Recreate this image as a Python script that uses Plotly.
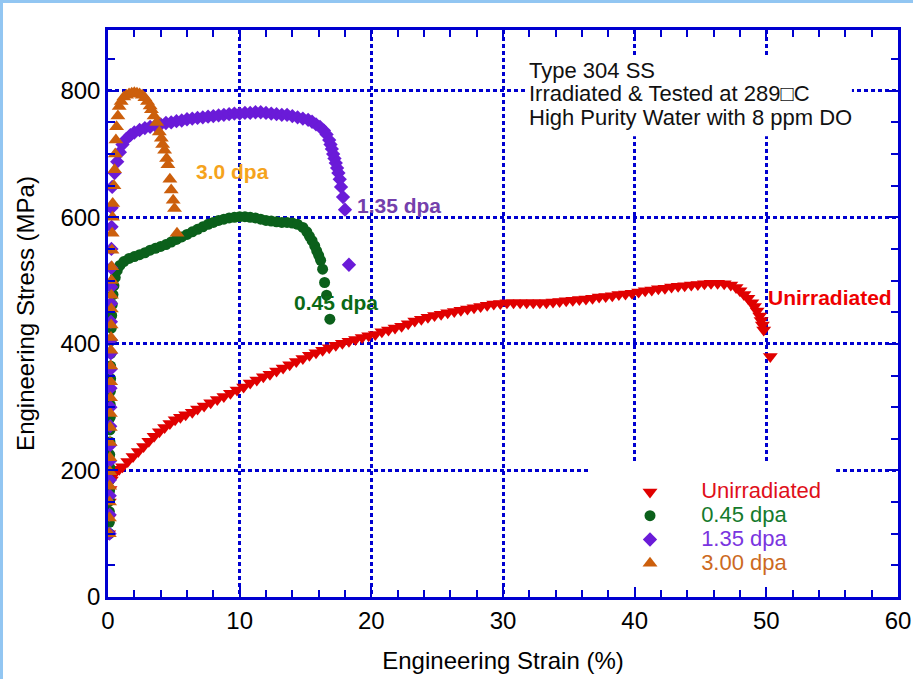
import plotly.graph_objects as go

# ---------------- data ----------------
unirr_strain = [0.05, 0.08, 0.10, 0.15, 0.25, 0.40, 0.60, 0.85,
                1.1, 1.5, 1.9, 2.3, 2.7, 3.1, 3.5, 3.9, 4.3, 4.7, 5.1, 5.5, 5.9, 6.4, 6.8, 7.3, 7.8,
                8.3, 8.8, 9.3, 9.8, 10.3, 10.8, 11.3, 11.8, 12.3, 12.8, 13.3, 13.8, 14.3, 14.8, 15.3,
                15.8, 16.3, 16.8, 17.3, 17.8, 18.3, 18.8, 19.3, 19.8, 20.3, 20.8, 21.3, 21.8, 22.3,
                22.8, 23.3, 23.8, 24.3, 24.8, 25.3, 25.8, 26.3, 26.8, 27.3, 27.8, 28.3, 28.8, 29.3,
                29.8, 30.3, 30.8, 31.3, 31.8, 32.3, 32.8, 33.3, 33.8, 34.3, 34.8, 35.3, 35.8, 36.3,
                36.8, 37.3, 37.8, 38.3, 38.8, 39.3, 39.8, 40.3, 40.8, 41.3, 41.8, 42.3, 42.8, 43.3,
                43.8, 44.3, 44.8, 45.3, 45.8, 46.3, 46.8, 47.3, 47.7, 48.0, 48.3, 48.6, 48.9, 49.1,
                49.3, 49.5, 49.6, 49.7, 49.8, 50.3]
unirr_stress = [100, 125, 150, 170, 185, 193, 198, 202,
                206, 214, 222, 230, 238, 246, 254, 261, 268, 274, 280, 284, 288, 292, 297, 302, 307,
                312, 317, 322, 327, 332, 338, 343, 348, 352, 357, 362, 367, 372, 377, 382,
                386, 390, 394, 398, 401, 404, 407, 410, 413, 415, 419, 422, 425, 428,
                432, 436, 439, 442, 445, 447, 449, 451, 453, 455, 457, 459, 461, 463,
                464, 465, 465, 465, 465, 465, 465, 465, 466, 467, 468, 469, 470, 471,
                472, 474, 475, 476, 478, 479, 480, 482, 484, 485, 487, 488, 490, 491,
                492, 493, 494, 495, 496, 496, 495, 493, 489, 484, 478, 472, 465, 459,
                452, 444, 437, 430, 422, 380]

dpa045_strain = [0.10, 0.10, 0.10, 0.12, 0.12, 0.12, 0.13, 0.13, 0.15, 0.15, 0.17, 0.17, 0.18,
                 0.20, 0.20, 0.22, 0.23, 0.25, 0.28, 0.32, 0.38, 0.45, 0.55, 0.70, 0.90,
                 1.2, 1.6, 2.0, 2.4, 2.8, 3.2, 3.6, 4.0, 4.4, 4.8, 5.2, 5.6, 6.0, 6.4, 6.8, 7.2,
                 7.6, 8.0, 8.4, 8.8, 9.2, 9.6, 10.0, 10.4, 10.8, 11.2, 11.6, 12.0, 12.4, 12.8,
                 13.2, 13.6, 14.0, 14.4, 14.8, 15.1, 15.3, 15.5, 15.7, 15.85, 16.0, 16.15,
                 16.3, 16.45, 16.6, 16.85]
dpa045_stress = [100, 118, 135, 152, 168, 185, 205, 225, 245, 264, 284, 304, 325,
                 345, 365, 385, 405, 425, 445, 462, 478, 492, 505, 516, 524,
                 530, 535, 538, 541, 544, 548, 551, 554, 557, 561, 565, 569, 573, 577, 581, 585,
                 589, 592, 595, 597, 599, 600, 601, 601, 600, 599, 597, 595, 594, 593,
                 592, 592, 591, 589, 584, 577, 570, 563, 555, 547, 540, 532,
                 518, 497, 477, 439]

dpa135_strain = [0.12, 0.12, 0.13, 0.14, 0.15, 0.16, 0.17, 0.18, 0.19, 0.20, 0.21, 0.22, 0.22,
                 0.23, 0.24, 0.25, 0.26, 0.27, 0.28, 0.32,
                 0.5, 0.7, 0.9, 1.1, 1.4, 1.7, 2.0, 2.4, 2.8, 3.2, 3.6, 4.0, 4.4, 4.8, 5.2, 5.6,
                 6.0, 6.4, 6.8, 7.2, 7.6, 8.0, 8.4, 8.8, 9.2, 9.6, 10.0, 10.4, 10.8, 11.2, 11.6,
                 12.0, 12.4, 12.8, 13.2, 13.6, 14.0, 14.4, 14.8, 15.2, 15.5, 15.8, 16.1, 16.4,
                 16.6, 16.8, 16.9, 17.0, 17.1, 17.2, 17.3, 17.4, 17.5, 17.6, 17.7, 17.85, 18.0, 18.3]
dpa135_stress = [100, 130, 160, 185, 215, 240, 270, 300, 330, 360, 385, 406, 435,
                 464, 490, 520, 550, 585, 615, 648,
                 670, 688, 703, 715, 724, 730, 734, 738, 741, 743, 745, 747, 749, 750, 752, 753,
                 755, 756, 757, 758, 759, 760, 761, 762, 763, 764, 764, 765, 765, 766, 766,
                 765, 764, 763, 762, 762, 760, 758, 756, 754, 751, 747, 743, 737,
                 731, 722, 715, 708, 700, 693, 686, 678, 670, 660, 648, 632, 612, 525]

dpa300_strain = [0.10, 0.11, 0.12, 0.13, 0.14, 0.15, 0.16, 0.17, 0.18, 0.19, 0.20, 0.21, 0.22,
                 0.23, 0.24, 0.25, 0.26, 0.27, 0.28, 0.30, 0.32, 0.34, 0.36,
                 0.45, 0.50, 0.55, 0.60, 0.65, 0.75, 0.85, 1.0, 1.2, 1.4, 1.6, 1.8, 2.0, 2.2, 2.4,
                 2.6, 2.8, 3.0, 3.2, 3.3, 3.5, 3.7, 3.9, 4.05, 4.15, 4.3, 4.45, 4.55, 4.7, 4.8,
                 4.95, 5.05, 5.24]
dpa300_stress = [100, 125, 150, 175, 198, 220, 244, 268, 290, 315, 340, 365, 390,
                 410, 430, 455, 477, 500, 522, 548, 575, 600, 622,
                 650, 675, 700, 722, 743, 760, 775, 783, 790, 793, 795, 796, 797, 796, 795,
                 793, 789, 783, 776, 770, 760, 750, 735, 725, 715, 706, 693, 683, 660, 643,
                 627, 614, 575]

legend_names = ["Unirradiated", "0.45 dpa", "1.35 dpa", "3.00 dpa"]
x_ticks = [0, 10, 20, 30, 40, 50, 60]
y_ticks = [0, 200, 400, 600, 800]

# ---------------- styling ----------------
FONT = "Liberation Sans, Arial, sans-serif"
BLUE = "#0000d0"
c_red, c_green, c_purple, c_orange = "#e00000", "#0b601b", "#6a1bd8", "#cc5f0c"
leg_text_colors = ["#e0101a", "#157a2c", "#7a35e0", "#cc6a1f"]
NB = "\u00a0"

fig = go.Figure()
series = [
    (unirr_strain, unirr_stress, "triangle-down", c_red, 13),
    (dpa045_strain, dpa045_stress, "circle", c_green, 11),
    (dpa135_strain, dpa135_stress, "diamond", c_purple, 11),
    (dpa300_strain, dpa300_stress, "triangle-up", c_orange, 13),
]
for (xs, ys, sym, col, sz), name, tcol in zip(series, legend_names, leg_text_colors):
    fig.add_trace(go.Scatter(
        x=xs, y=ys, mode="markers",
        marker=dict(symbol=sym, color=col, size=sz, line=dict(width=0)),
        name=f'{NB*7}<span style="color:{tcol};font-size:22px">{name}</span>',
    ))

axis_common = dict(
    showline=True, linecolor=BLUE, linewidth=2.5, mirror="allticks",
    ticks="inside", ticklen=10, tickwidth=2, tickcolor=BLUE,
    showgrid=True, gridcolor=BLUE, gridwidth=2.5, griddash="4px,3px",
    zeroline=False, automargin=False,
    tickfont=dict(family=FONT, size=24, color="black"),
    title_font=dict(family=FONT, size=24, color="black"),
    minor=dict(ticks="inside", ticklen=7, tickwidth=2, tickcolor=BLUE, showgrid=False),
)

fig.update_xaxes(range=[0, 60], tickvals=x_ticks, minor_dtick=2,
                 title_text="Engineering Strain (%)", title_standoff=20, **axis_common)
fig.update_yaxes(range=[0, 896], tickvals=y_ticks, minor_dtick=50,
                 title_text="Engineering Stress (MPa)", title_standoff=20, **axis_common)

# white frame areas that hide grid (text block and legend block)
fig.add_shape(type="rect", xref="x", yref="y", x0=31.8, x1=56.5, y0=728, y1=856,
              fillcolor="white", line_width=0, layer="between")
fig.add_shape(type="rect", xref="x", yref="y", x0=36.6, x1=55.3, y0=0, y1=214,
              fillcolor="white", line_width=0, layer="between")

# light blue page frame (top and left)
fig.add_shape(type="rect", xref="paper", yref="paper", x0=-0.1367, x1=1.05,
              y0=1.0476, y1=1.0530, fillcolor="#92c6f2", line_width=0, layer="above")
fig.add_shape(type="rect", xref="paper", yref="paper", x0=-0.1367, x1=-0.1329,
              y0=-0.15, y1=1.0530, fillcolor="#92c6f2", line_width=0, layer="above")

# text block
info_lines = ["Type 304 SS", "Irradiated &amp; Tested at 289\u25a1C", "High Purity Water with 8 ppm DO"]
for i, t in enumerate(info_lines):
    fig.add_annotation(xref="paper", yref="paper", x=(527 - 108) / 790, y=(597 - (70 + 23.5 * i)) / 567,
                       xanchor="left", yanchor="middle", text=t, showarrow=False,
                       font=dict(family=FONT, size=22, color="#111111"))

# curve labels
labels = [
    ("3.0 dpa", 9.45, 673, "#f5a31c"),
    ("1.35 dpa", 22.1, 618, "#7440ac"),
    ("0.45 dpa", 17.3, 466, "#0b6a16"),
    ("Unirradiated", 54.8, 473, "#ee0000"),
]
for t, x, y, col in labels:
    fig.add_annotation(x=x, y=y, text=f"<b>{t}</b>", showarrow=False,
                       font=dict(family=FONT, size=21, color=col))

fig.update_layout(
    width=913, height=679,
    margin=dict(l=108, r=15, t=30, b=82, autoexpand=False),
    paper_bgcolor="white", plot_bgcolor="white",
    font=dict(family=FONT, color="black"),
    showlegend=True,
    legend=dict(x=(630 - 108) / 790, y=(597 - 475) / 567, xanchor="left", yanchor="top",
                bgcolor="rgba(0,0,0,0)", borderwidth=0, tracegroupgap=0,
                font=dict(family=FONT, size=16), itemclick=False),
)

fig.write_html("out.html")
